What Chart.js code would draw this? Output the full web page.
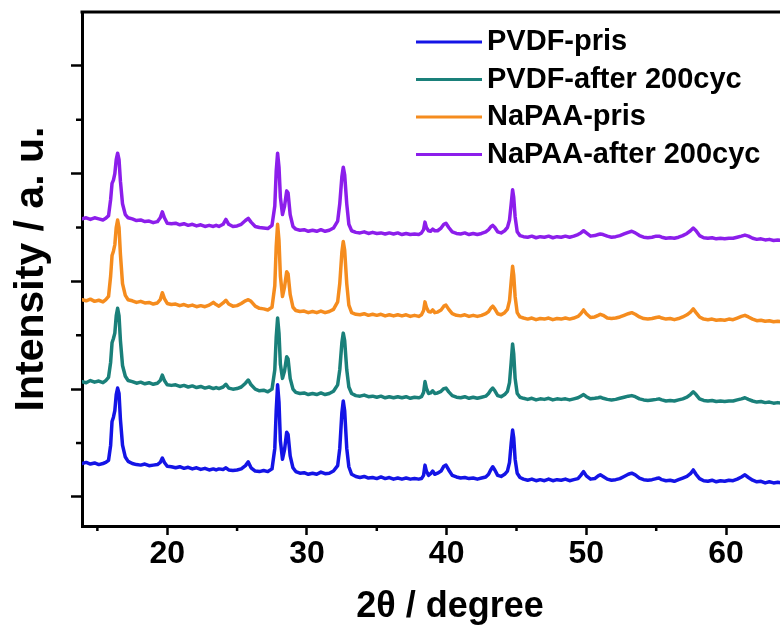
<!DOCTYPE html>
<html>
<head>
<meta charset="utf-8">
<script src="https://cdn.jsdelivr.net/npm/chart.js@4.4.1/dist/chart.umd.min.js"></script>
<style>
  html, body { margin: 0; padding: 0; background: #fff; overflow: hidden; }
  #wrap { width: 780px; height: 630px; overflow: hidden; }
  canvas { display: block; }
</style>
</head>
<body>
<div id="wrap"><canvas id="xrd" width="818" height="630"></canvas></div>
<script>
// 2θ positions (degree), shared by all four patterns
const TWO_THETA = [
  13.9, 14.2, 14.5, 14.8, 15.1, 15.4, 15.6, 15.8,
  15.95, 16.05, 16.15, 16.25, 16.35, 16.45, 16.55, 16.65, 16.8, 17.0, 17.2,
  17.5, 17.8, 18.1, 18.4, 18.7, 19.0, 19.3,
  19.5, 19.65, 19.8, 20.0,
  20.3, 20.6, 20.9, 21.2, 21.5, 21.8, 22.1, 22.4, 22.7, 23.0, 23.3, 23.5, 23.7, 24.0, 24.2, 24.4, 24.7, 25.0, 25.3, 25.6, 25.8, 26.0, 26.3, 26.6, 26.9, 27.2, 27.5,
  27.7, 27.8, 27.9, 28.0, 28.1, 28.25, 28.4, 28.55, 28.65, 28.8, 29.0, 29.2,
  29.5, 29.8, 30.1, 30.4, 30.7, 31.0, 31.3, 31.6, 31.9, 32.2,
  32.35, 32.5, 32.6, 32.7, 32.85, 33.0, 33.2,
  33.5, 33.8, 34.1, 34.4, 34.7, 35.0, 35.3, 35.6, 35.9, 36.2, 36.5, 36.8, 37.1, 37.4, 37.7, 38.0, 38.2,
  38.35, 38.45, 38.55, 38.7, 38.85, 39.0, 39.15, 39.35, 39.6, 39.8, 39.95, 40.15, 40.4,
  40.7, 41.0, 41.3, 41.6, 41.9, 42.2, 42.5, 42.8,
  43.0, 43.15, 43.3, 43.45, 43.65, 43.9, 44.15, 44.35, 44.5, 44.62, 44.72, 44.8, 44.9, 45.05, 45.25,
  45.5, 45.8, 46.1, 46.4, 46.7, 47.0, 47.3, 47.6, 47.9, 48.2, 48.5, 48.8, 49.1, 49.4,
  49.6, 49.8, 50.0, 50.3, 50.6, 50.85, 51.0, 51.2, 51.5, 51.8, 52.1, 52.4, 52.7, 53.0, 53.25,
  53.5, 53.8, 54.1, 54.4, 54.7, 55.0, 55.2, 55.4, 55.7, 56.0, 56.3, 56.6, 56.9, 57.2, 57.45,
  57.65, 57.85, 58.1, 58.4, 58.7, 59.0, 59.3, 59.6, 59.9, 60.2, 60.5, 60.8, 61.1, 61.35, 61.6,
  61.9, 62.2, 62.5, 62.8, 63.1, 63.4, 63.7, 64.0
];

// Intensity (a.u.), patterns stacked with vertical offsets
const PVDF_PRIS = [
  31, 32, 30.5, 31.5, 30, 31, 32, 34,
  48, 70, 74, 80, 95, 101, 96, 72, 48, 37, 33,
  31, 30, 29.5, 30.5, 29, 29.5, 30,
  32, 36, 32, 28.5,
  28, 27, 28, 26.5, 27.5, 26, 27, 25.5, 26.5, 25, 26, 25, 26, 25.5, 27, 25, 24.5, 25, 26, 29, 32.5, 27, 24, 23.5, 24.5, 23.5, 26,
  45, 80, 104, 88, 52, 35, 44, 60, 58, 38, 27, 23.5,
  22, 22.5, 21, 22, 21, 23, 21.5, 22, 24, 29,
  45, 78, 89, 80, 45, 28, 21,
  19, 18, 19, 17.5, 18, 17, 18.5, 17, 18, 16.5, 17.5, 16.5, 17.5, 16.5, 17, 16.5, 17,
  20, 29.5, 24, 20, 21.5, 24, 21, 22, 24, 28.5, 29.5, 25, 20,
  18.5, 17.5, 18, 17, 17.5, 16.5, 17.5, 18.5,
  21, 25, 28, 25, 20, 19, 21, 24, 32, 50, 62, 55, 35, 22, 18,
  16.5, 15.5, 16.5, 15, 16, 15, 16.5, 15, 16, 15.5, 16.5, 15, 16, 17,
  20, 23.5, 19.5, 16.5, 17, 19.5, 20.5, 19, 16.5, 15.5, 16, 17, 19, 21, 22,
  20.5, 17.5, 16, 15.5, 16, 17, 17.5, 16, 15, 15.5, 14.5, 16, 17.5, 19, 21.5,
  25, 21, 17, 15, 14.5, 15.5, 14, 15, 14.5, 15.5, 15, 16.5, 18.5, 20.5, 18,
  15.5, 14, 14.5, 13, 14, 13, 13.5, 13
];

const PVDF_200CYC = [
  107, 106, 108, 106.5, 107.5, 106, 108, 111,
  125, 143, 147, 152, 168, 175, 168, 145, 122, 112, 108,
  107, 105.5, 106.5, 105, 106, 104.5, 105.5,
  108, 113, 108, 104,
  103.5, 104, 102.5, 103.5, 102, 103, 101.5, 102.5, 101, 102, 100.5, 101.5, 100.5, 102, 104.5, 101, 100, 100.5, 102, 105.5, 108.5, 104, 100, 98.5, 99, 97.5, 100,
  118, 148, 166, 152, 123, 110, 117, 130, 128, 110, 100, 97,
  96, 96.5, 95, 96, 95, 96.5, 95, 96, 98, 104,
  118, 143, 152, 145, 118, 102, 96,
  94, 93.5, 94.5, 93, 93.5, 92.5, 93.5, 92, 93, 92, 93, 92, 93, 91.5, 92.5, 92, 93,
  97, 107, 101, 96, 96.5, 98.5, 96, 96.5, 98, 100.5, 101, 97.5, 94,
  92.5, 92, 93, 91.5, 92.5, 91.5, 92.5, 93.5,
  96, 99, 101, 98.5, 94, 93, 95, 98, 106, 125, 142, 133, 110, 96, 92.5,
  91.5, 90.5, 91.5, 90, 91, 90.5, 91.5, 90, 91, 90.5, 91, 90, 91, 92,
  93.5, 95, 93, 91, 91.5, 92, 92.5, 91.5, 90.5, 90, 90.5, 91.5, 92.5, 93.5, 94,
  93, 91, 90, 89.5, 90, 90.5, 91, 90, 89, 89.5, 89, 90, 91, 92.5, 95,
  97.5, 95, 91, 89.5, 89, 89.5, 88.5, 89, 88.5, 89, 89, 90, 91, 92, 90.5,
  89, 88, 88.5, 87.5, 88, 87, 87.5, 87
];

const NAPAA_PRIS = [
  183, 182, 183.5, 181.5, 182.5, 181, 183, 186,
  205, 224, 228, 234, 250, 257, 250, 225, 198, 187, 183,
  182, 180.5, 181.5, 180, 180.5, 179, 180,
  183, 189.5, 184, 179.5,
  178.5, 179, 177.5, 178.5, 177, 178, 176.5, 177.5, 176.5, 178, 180.5, 178.5, 177, 180, 182.5, 179, 177, 177.5, 179.5, 182, 183, 181.5, 177, 175, 174.5, 173.5, 176,
  196, 232, 253, 238, 205, 186, 195, 209, 207, 188, 176, 173,
  172, 172.5, 171, 172, 171, 172.5, 171, 172, 174, 181,
  198, 227, 237, 229, 198, 178, 171,
  169.5, 169, 170, 168.5, 169.5, 168.5, 169.5, 168, 169, 168, 169, 168, 169, 167.5, 168.5, 167.5, 169,
  173, 181, 176, 172, 171.5, 173.5, 171, 171.5, 173.5, 177, 178, 174, 170,
  168.5, 168, 169, 167.5, 168.5, 167.5, 168.5, 170,
  172, 175, 177, 174.5, 170, 169, 171, 174, 182, 200, 214, 206, 186, 171, 167,
  166, 165, 166, 164.5, 165.5, 165, 166, 164.5, 165.5, 165, 166, 165, 166, 167.5,
  170, 173.5, 170, 166.5, 167, 168.5, 169.5, 168.5, 166, 165.5, 166, 167, 168.5, 170, 171,
  169.5, 167, 165.5, 165, 165.5, 166.5, 167, 166, 165, 165.5, 164.5, 165.5, 167, 169, 171.5,
  174.5, 171, 167, 165, 164.5, 165, 164, 164.5, 164, 165, 164.5, 166, 167.5, 168.5, 167,
  165, 163.5, 164, 163, 163.5, 162.5, 163, 162.5
];

const NAPAA_200CYC = [
  258, 259, 257.5, 259, 258, 257, 258.5, 261,
  276, 291, 294, 300, 313, 319, 313, 293, 272, 262, 259,
  258, 256.5, 257, 255.5, 256, 254.5, 255.5,
  259, 264.5, 259, 254,
  253.5, 254, 252.5, 253.5, 252, 253, 251.5, 252.5, 251, 252, 251, 252, 251, 253, 257.5, 253, 251, 251.5, 253, 256.5, 258.5, 255, 251, 250, 249.5, 249, 252,
  270, 302, 319, 306, 278, 262, 270, 284, 282, 262, 251, 248.5,
  247.5, 248, 246.5, 247.5, 246.5, 248, 246.5, 247.5, 249.5, 256,
  272, 297, 306, 299, 272, 253, 247,
  245.5, 245, 246, 244.5, 245.5, 244.5, 245, 244, 245, 244, 245, 243.5, 244.5, 243.5, 244, 243.5, 245,
  248, 255, 250, 247, 246.5, 248.5, 247, 247, 249.5, 253, 254, 250, 246,
  244.5, 244, 245, 243.5, 244.5, 243.5, 244.5, 246,
  248, 250.5, 252, 250, 246, 245, 247, 250, 257, 272, 285, 278, 260, 246, 242.5,
  241.5, 241, 242, 240.5, 241.5, 241, 242, 240.5, 241.5, 241, 242, 241, 242, 243.5,
  245, 247, 245, 242, 242.5, 243.5, 244, 243.5, 242, 241, 241.5, 242.5, 244, 245.5, 246.5,
  245, 242.5, 241, 240.5, 241, 242, 242, 241, 240, 240.5, 240, 241, 242.5, 244.5, 247,
  249.5, 247, 242.5, 240.5, 240, 240.5, 239.5, 240, 239.5, 240, 240, 241, 242, 243, 242,
  240, 239, 239.5, 238.5, 239, 238, 238.5, 238
];

const SERIES_LABELS = ['PVDF-pris', 'PVDF-after 200cyc', 'NaPAA-pris', 'NaPAA-after 200cyc'];
const SERIES_COLORS = ['#1414e6', '#1a807a', '#f58c1e', '#8c1eeb'];
const X_MAJOR_TICKS = [20, 30, 40, 50, 60];
const X_MINOR_TICKS = [15, 25, 35, 45, 55, 65];
const Y_MAJOR_TICKS = [0, 100, 200, 300, 400];
const Y_MINOR_TICKS = [50, 150, 250, 350];

const FONT = '"Liberation Sans", Arial, Helvetica, sans-serif';

function pattern(values, i) {
  return {
    label: SERIES_LABELS[i],
    data: TWO_THETA.map((t, k) => ({ x: t, y: values[k] })),
    borderColor: SERIES_COLORS[i],
    backgroundColor: SERIES_COLORS[i],
    borderWidth: 3.5,
    pointRadius: 0,
    tension: 0,
    borderJoinStyle: 'round',
    borderCapStyle: 'round'
  };
}

// closed top edge of the frame plus the short minor ticks on both axes
const frameAndMinorTicks = {
  id: 'frameAndMinorTicks',
  afterDraw(chart) {
    const { ctx, chartArea: a, scales: { x, y } } = chart;
    ctx.save();
    ctx.strokeStyle = '#000';
    ctx.lineWidth = 3;
    ctx.beginPath();
    ctx.moveTo(a.left - 1.5, a.top);
    ctx.lineTo(a.right, a.top);
    ctx.stroke();
    ctx.lineWidth = 2.5;
    X_MINOR_TICKS.forEach(v => {
      const px = x.getPixelForValue(v);
      ctx.beginPath();
      ctx.moveTo(px, a.bottom);
      ctx.lineTo(px, a.bottom + 5);
      ctx.stroke();
    });
    Y_MINOR_TICKS.forEach(v => {
      const py = y.getPixelForValue(v);
      ctx.beginPath();
      ctx.moveTo(a.left, py);
      ctx.lineTo(a.left - 6, py);
      ctx.stroke();
    });
    ctx.restore();
  }
};

// line-sample key in the upper right corner
const seriesKey = {
  id: 'seriesKey',
  afterDraw(chart) {
    const ctx = chart.ctx;
    ctx.save();
    ctx.font = 'bold 29px ' + FONT;
    ctx.textAlign = 'left';
    ctx.textBaseline = 'middle';
    ctx.fillStyle = '#000';
    chart.data.datasets.forEach((ds, i) => {
      const yy = 42 + i * 37.5;
      ctx.strokeStyle = ds.borderColor;
      ctx.lineWidth = 3;
      ctx.beginPath();
      ctx.moveTo(416, yy);
      ctx.lineTo(482, yy);
      ctx.stroke();
      ctx.fillText(ds.label, 487, yy);
    });
    ctx.restore();
  }
};

new Chart(document.getElementById('xrd'), {
  type: 'line',
  data: {
    datasets: [
      pattern(PVDF_PRIS, 0),
      pattern(PVDF_200CYC, 1),
      pattern(NAPAA_PRIS, 2),
      pattern(NAPAA_200CYC, 3)
    ]
  },
  options: {
    responsive: false,
    devicePixelRatio: 1,
    animation: false,
    layout: { padding: { top: 12, left: 0, right: 0, bottom: 0 } },
    plugins: { legend: { display: false }, tooltip: { enabled: false } },
    scales: {
      x: {
        type: 'linear',
        position: 'bottom',
        min: 13.9,
        max: 66.58,
        afterBuildTicks: s => { s.ticks = X_MAJOR_TICKS.map(v => ({ value: v })); },
        afterFit: s => { s.height = 104; },
        grid: { display: true, drawOnChartArea: false, drawTicks: true, tickLength: 9, tickWidth: 2.5, tickColor: '#000' },
        border: { display: true, color: '#000', width: 3 },
        ticks: { color: '#000', padding: 0, maxRotation: 0, font: { family: FONT, size: 32, weight: 'bold' } },
        title: { display: true, text: '2θ / degree', color: '#000', padding: { top: 0, bottom: 1 }, font: { family: FONT, size: 36, weight: 'bold' } }
      },
      y: {
        type: 'linear',
        min: -27,
        max: 450,
        afterBuildTicks: s => { s.ticks = Y_MAJOR_TICKS.map(v => ({ value: v })); },
        afterFit: s => { s.width = 82; },
        grid: { display: true, drawOnChartArea: false, drawTicks: true, tickLength: 11, tickWidth: 2.5, tickColor: '#000' },
        border: { display: true, color: '#000', width: 3 },
        ticks: { display: false },
        title: { display: true, text: 'Intensity / a. u.', color: '#000', padding: { top: 7, bottom: 0 }, font: { family: FONT, size: 41, weight: 'bold' } }
      }
    }
  },
  plugins: [frameAndMinorTicks, seriesKey]
});
</script>
</body>
</html>
